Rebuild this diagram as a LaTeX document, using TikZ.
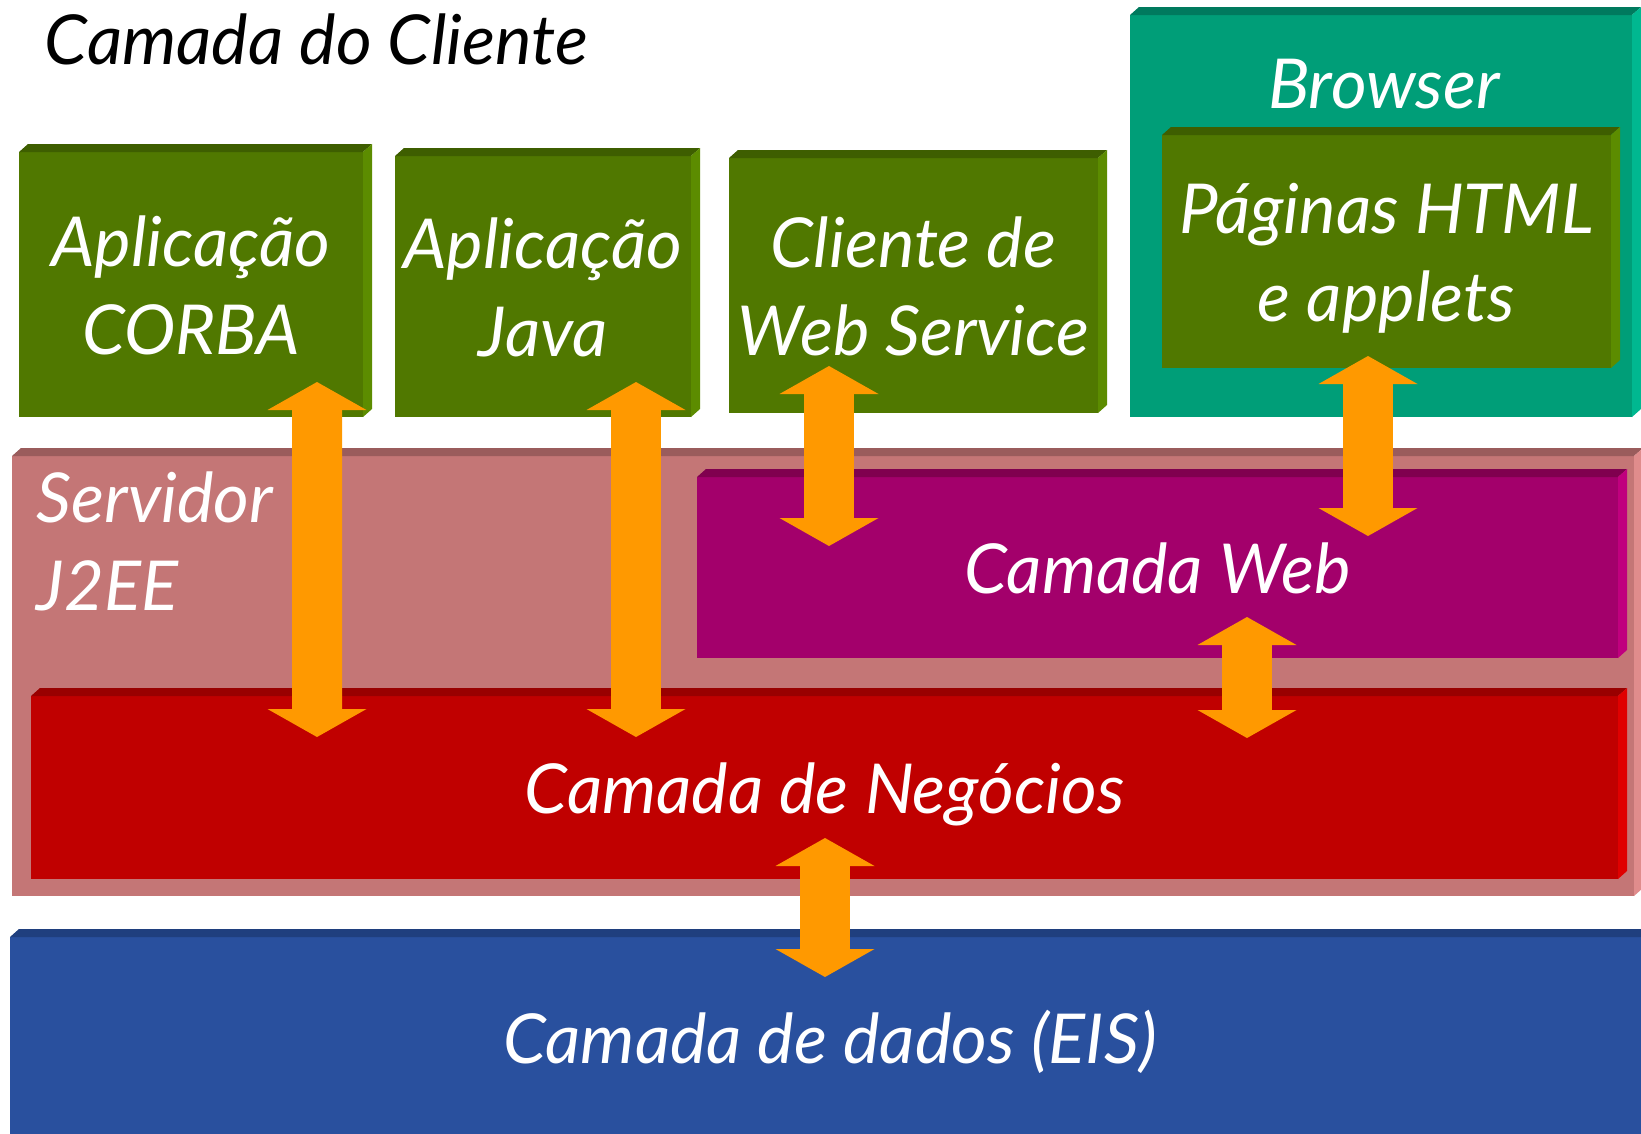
\documentclass[tikz,border=0pt]{standalone}
\usepackage{fontspec}
\setmainfont{Lato}
\usetikzlibrary{arrows.meta,calc}

\definecolor{appgreen}{HTML}{507800}
\definecolor{appgreentop}{HTML}{3E5E00}
\definecolor{appgreenside}{HTML}{5C8C00}
\definecolor{browserteal}{HTML}{009E78}
\definecolor{browsertealtop}{HTML}{007A5E}
\definecolor{browsertealside}{HTML}{00B890}
\definecolor{serverpink}{HTML}{C47676}
\definecolor{serverpinktop}{HTML}{9A5C5C}
\definecolor{serverpinkside}{HTML}{E08C8C}
\definecolor{webmagenta}{HTML}{A3006B}
\definecolor{webmagentatop}{HTML}{80004F}
\definecolor{webmagentaside}{HTML}{C0007E}
\definecolor{bizred}{HTML}{C00000}
\definecolor{bizredtop}{HTML}{990000}
\definecolor{bizredside}{HTML}{E00000}
\definecolor{eisblue}{HTML}{29509E}
\definecolor{eisbluetop}{HTML}{1F3F7E}
\definecolor{eisblueside}{HTML}{3060B0}
\definecolor{linkorange}{HTML}{FF9900}

\newcommand\layerfont{\fontsize{19.6}{25}\selectfont\itshape}
% fixed first-line height and last-line depth
\newcommand\slabtext[1]{\rule{0pt}{20pt}#1\rule[-5pt]{0pt}{5pt}}

\tikzset{
  slab/.style={anchor=north west, inner sep=0pt, outer sep=0pt, text=white, align=center, font=\layerfont},
  link/.style={draw=linkorange, line width=5mm, {Triangle[width=9.9mm, length=2.8mm, line width=0pt]}-{Triangle[width=9.9mm, length=2.8mm, line width=0pt]}},
}

\begin{document}
\begin{tikzpicture}[x=0.1mm, y=-0.1mm]
    \clip (0,0) rectangle (1641,1133);
    \fill[white] (0,0) rectangle (1641,1133);

    \node[anchor=base west, inner sep=0pt, font=\layerfont] (title) at (44,64) {Camada do Cliente};

    % servidor and its layers
    \node[slab, fill=serverpink, minimum width=162.2mm, minimum height=44mm] (server) at (12,456) {};
    \node[slab, anchor=north west, align=left] (serverlbl) at (37,452) {\slabtext{Servidor\\J2EE}};
    \node[slab, fill=webmagenta, minimum width=92.1mm, minimum height=18.1mm] (web) at (697,477) {\slabtext{Camada Web}};
    \node[slab, fill=bizred, minimum width=158.7mm, minimum height=18.3mm] (biz) at (31,696) {\slabtext{Camada de Negócios}};
    \node[slab, fill=eisblue, minimum width=164mm, minimum height=20mm] (eis) at (10,937) {\slabtext{Camada de dados (EIS)}};

    % clientes
    \node[slab, fill=browserteal, minimum width=50.2mm, minimum height=40.2mm] (browser) at (1130,15) {};
    \node[slab, fill=appgreen, minimum width=44.9mm, minimum height=23.3mm] (html) at (1162,135) {\slabtext{Páginas HTML\\e applets}};
    \node[slab, anchor=base] (browserlbl) at (1384,108) {Browser};
    \node[slab, fill=appgreen, minimum width=34.4mm, minimum height=26.5mm] (corba) at (19,152) {\slabtext{Aplicação\\CORBA}};
    \node[slab, fill=appgreen, minimum width=29.6mm, minimum height=26.1mm] (java) at (395,156) {\slabtext{Aplicação\\Java}};
    \node[slab, fill=appgreen, minimum width=36.9mm, minimum height=25.5mm] (ws) at (729,158) {\slabtext{Cliente de\\Web Service}};

    % faces de cima e do lado
    \foreach \n/\t/\s in {server/serverpinktop/serverpinkside, web/webmagentatop/webmagentaside,
        biz/bizredtop/bizredside, eis/eisbluetop/eisblueside, browser/browsertealtop/browsertealside,
        html/appgreentop/appgreenside, corba/appgreentop/appgreenside, java/appgreentop/appgreenside,
        ws/appgreentop/appgreenside} {
      \fill[\t] (\n.north west) -- ++(9,-8) -- ([shift={(9,-8)}]\n.north east) -- (\n.north east) -- cycle;
      \fill[\s] (\n.north east) -- ++(9,-8) -- ([shift={(9,-8)}]\n.south east) -- (\n.south east) -- cycle;
    }

    \draw[link] ($(corba.south east)+(-46,-35)$) -- ($(biz.north west)+(286,41)$);
    \draw[link] ($(java.south west)+(241,-35)$) -- ($(biz.north west)+(605,41)$);
    \draw[link] ($(ws.south west)+(100,-47)$) -- ($(web.north west)+(132,69)$);
    \draw[link] ($(html.south west)+(206,-12)$) -- ($(web.north west)+(671,59)$);
    \draw[link] ($(web.south west)+(550,-41)$) -- ($(biz.north west)+(1216,42)$);
    \draw[link] ($(biz.south west)+(794,-41)$) -- ($(eis.north west)+(815,40)$);
\end{tikzpicture}
\end{document}
